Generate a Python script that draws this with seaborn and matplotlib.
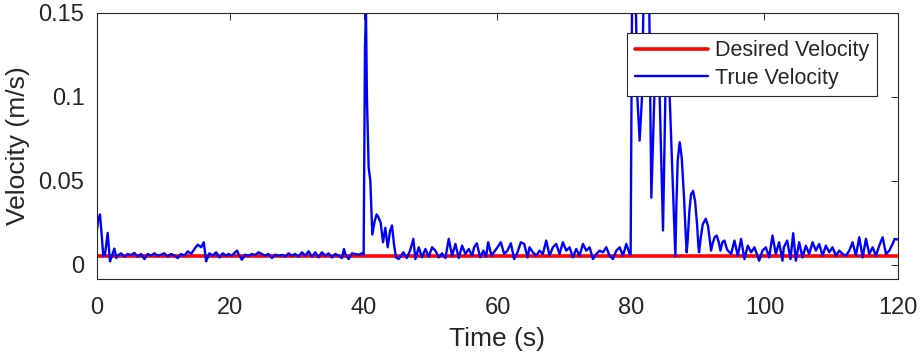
import numpy as np
import pandas as pd
import matplotlib
matplotlib.use("Agg")
import matplotlib.pyplot as plt
import seaborn as sns

# values (time in s, velocity in m/s)
t_start = [0.0, 0.2, 0.45, 0.7, 0.95, 1.2, 1.6, 1.95, 2.3, 2.6, 2.9]
v_start = [0.021, 0.027, 0.030, 0.018, 0.005, 0.006, 0.019, 0.002, 0.006, 0.0096, 0.004]

t_quiet1 = [3.1, 3.6, 4.1, 4.6, 5.1, 5.6, 6.1, 6.6, 7.1, 7.6, 8.1, 8.6, 9.1, 9.6,
            10.1, 10.6, 11.1, 11.6, 12.1, 12.6, 13.1, 13.6, 14.1, 14.6, 15.1, 15.6,
            16.0, 16.35, 16.85, 17.35, 17.85, 18.35, 18.85, 19.35]
v_quiet1 = [0.0054, 0.0068, 0.0048, 0.0064, 0.0058, 0.0070, 0.0048, 0.0064, 0.0034,
            0.0064, 0.0054, 0.0068, 0.0054, 0.0060, 0.0068, 0.0048, 0.0064, 0.0054,
            0.0040, 0.0064, 0.0054, 0.0080, 0.0064, 0.0094, 0.0120, 0.0104, 0.0134,
            0.0020, 0.0068, 0.0054, 0.0074, 0.0044, 0.0068, 0.0054]

t_quiet2 = [19.7, 20.2, 20.7, 21.0, 21.2, 21.7, 22.2, 22.7, 23.2, 23.7, 24.2, 24.7,
            25.2, 25.7, 26.2, 26.7, 27.2, 27.7, 28.2, 28.7, 29.2, 29.7, 30.2, 30.7,
            31.2, 31.7, 32.2, 32.7, 33.2, 33.7, 34.2, 34.7, 35.2, 35.7, 36.2, 36.7,
            37.0, 37.2, 37.7, 38.2, 38.7, 39.2, 39.7]
v_quiet2 = [0.0064, 0.0054, 0.0074, 0.0084, 0.0064, 0.0030, 0.0060, 0.0054, 0.0064,
            0.0058, 0.0074, 0.0064, 0.0054, 0.0064, 0.0040, 0.0060, 0.0054, 0.0058,
            0.0048, 0.0068, 0.0054, 0.0064, 0.0048, 0.0074, 0.0054, 0.0080, 0.0048,
            0.0074, 0.0044, 0.0074, 0.0054, 0.0068, 0.0044, 0.0064, 0.0054, 0.0040,
            0.0094, 0.0064, 0.0034, 0.0068, 0.0064, 0.0060, 0.0068]

t_spike1 = [39.95, 40.15, 40.3, 40.45, 40.7, 40.95, 41.25, 41.6, 41.9, 42.2, 42.5,
            42.85, 43.2, 43.55, 43.9, 44.2, 44.5, 44.8, 45.2]
v_spike1 = [0.006, 0.130, 0.151, 0.098, 0.058, 0.050, 0.018, 0.026, 0.030, 0.028,
            0.025, 0.0134, 0.022, 0.0104, 0.020, 0.0234, 0.012, 0.0044, 0.0034]

t_quiet3 = [45.9, 46.4, 46.9, 47.4, 47.7, 48.2, 48.7, 49.2, 49.7, 50.2, 50.7, 51.2,
            51.7, 52.2, 52.7, 53.2, 53.7, 54.2, 54.7, 55.2, 55.7, 56.2, 56.5, 56.9,
            57.4, 57.9, 58.3, 58.6, 59.1]
v_quiet3 = [0.0074, 0.0040, 0.0084, 0.0154, 0.0034, 0.0104, 0.0044, 0.0094, 0.0048,
            0.0104, 0.0084, 0.0044, 0.0068, 0.0040, 0.0154, 0.0054, 0.0124, 0.0040,
            0.0114, 0.0064, 0.0094, 0.0054, 0.0104, 0.0128, 0.0044, 0.0084, 0.0048,
            0.0134, 0.0054]

t_quiet4 = [60.0, 60.5, 61.0, 61.5, 62.0, 62.5, 63.0, 63.5, 64.0, 64.5, 64.8, 65.3,
            65.8, 66.3, 66.8, 67.3, 67.8, 68.3, 68.8, 69.3, 69.8, 70.3, 70.8, 71.3,
            71.8, 72.3, 72.8, 73.3, 73.8, 74.3, 74.8, 75.3, 75.8, 76.3, 76.8, 77.3,
            77.8, 78.3, 78.8, 79.3, 79.8]
v_quiet4 = [0.0104, 0.0134, 0.0064, 0.0084, 0.0128, 0.0034, 0.0074, 0.0134, 0.0124,
            0.0044, 0.0104, 0.0074, 0.0054, 0.0084, 0.0064, 0.0144, 0.0054, 0.0104,
            0.0124, 0.0064, 0.0134, 0.0084, 0.0104, 0.0044, 0.0094, 0.0054, 0.0124,
            0.0084, 0.0104, 0.0034, 0.0064, 0.0084, 0.0074, 0.0104, 0.0054, 0.0034,
            0.0084, 0.0104, 0.0054, 0.0124, 0.0064]

t_spike2 = [79.95, 80.15, 80.45, 80.75, 80.95, 81.3, 81.65, 81.85, 82.3, 82.75, 83.05,
            83.5, 83.9, 84.3, 84.8, 85.15, 85.45, 85.8, 86.65,
            86.8, 87.0, 87.3, 87.6, 87.95, 88.2, 88.35,
            88.5, 88.75, 89.0, 89.3, 89.6, 89.9, 90.1, 90.2,
            90.45, 90.75, 91.2, 91.55, 91.8, 92.0,
            92.25, 92.55, 92.85, 93.15, 93.4, 93.7, 94.0, 94.4]
v_spike2 = [0.006, 0.150, 0.190, 0.150, 0.100, 0.074, 0.100, 0.150, 0.190, 0.150, 0.040,
            0.100, 0.125, 0.100, 0.0204, 0.100, 0.120, 0.100, 0.005,
            0.035, 0.062, 0.073, 0.064, 0.040, 0.018, 0.0074,
            0.015, 0.032, 0.042, 0.044, 0.038, 0.024, 0.011, 0.0074,
            0.016, 0.024, 0.0274, 0.023, 0.015, 0.0084,
            0.013, 0.0165, 0.0174, 0.0135, 0.0084, 0.0135, 0.0144, 0.009]

t_quiet5 = [95.0, 95.5, 96.0, 96.5, 97.0, 97.5, 98.0, 98.5, 99.2, 99.7, 100.2, 100.7,
            101.2, 101.7, 102.2, 102.7, 102.9, 103.4, 103.9, 104.3, 104.7, 105.2, 105.7,
            106.2, 106.7, 107.2, 107.7, 108.2, 108.7, 109.2, 109.7, 110.2, 110.7, 111.2,
            111.7, 112.2, 112.7, 113.2, 113.7, 114.2, 114.7, 115.2, 115.7, 116.2, 116.7,
            117.2, 117.7, 118.2, 118.7, 119.2, 119.5, 120.0]
v_quiet5 = [0.0064, 0.0144, 0.0054, 0.0154, 0.0034, 0.0114, 0.0074, 0.0104, 0.0024,
            0.0084, 0.0104, 0.0044, 0.0174, 0.0064, 0.0134, 0.0024, 0.0104, 0.0144,
            0.0034, 0.0188, 0.0024, 0.0134, 0.0044, 0.0114, 0.0064, 0.0134, 0.0084,
            0.0124, 0.0054, 0.0114, 0.0074, 0.0104, 0.0054, 0.0084, 0.0064, 0.0054,
            0.0084, 0.0134, 0.0054, 0.0164, 0.0044, 0.0154, 0.0064, 0.0104, 0.0054,
            0.0114, 0.0164, 0.0064, 0.0084, 0.0124, 0.0154, 0.0150]

desired_t = [0.0, 120.0]
desired_v = [0.005, 0.005]

true_t = t_start + t_quiet1 + t_quiet2 + t_spike1 + t_quiet3 + t_quiet4 + t_spike2 + t_quiet5
true_v = v_start + v_quiet1 + v_quiet2 + v_spike1 + v_quiet3 + v_quiet4 + v_spike2 + v_quiet5

true_df = pd.DataFrame({"time": true_t, "vel": true_v})
desired_df = pd.DataFrame({"time": desired_t, "vel": desired_v})

sns.set_style("white")
plt.rcParams['font.family'] = ['Liberation Sans', 'DejaVu Sans']
dark = "#262626"

fig = plt.figure(figsize=(9.21, 3.61), dpi=100)
ax = fig.add_axes([0.1053, 0.2271, 0.8697, 0.7369])

sns.lineplot(data=desired_df, x="time", y="vel", color=(1, 0, 0), linewidth=2.6,
             label="Desired Velocity", ax=ax)
sns.lineplot(data=true_df, x="time", y="vel", color=(0, 0, 1), linewidth=1.7,
             label="True Velocity", ax=ax)

ax.set_xlim(0, 120)
ax.set_ylim(-0.0085, 0.15)
ax.set_xticks([0, 20, 40, 60, 80, 100, 120])
ax.set_yticks([0, 0.05, 0.1, 0.15])
ax.set_yticklabels(["0", "0.05", "0.1", "0.15"])
ax.set_xlabel("Time (s)", fontsize=19, color=dark, labelpad=6)
ax.set_ylabel("Velocity (m/s)", fontsize=19, color=dark, labelpad=6)

ax.tick_params(direction="in", length=5, width=0.7, colors=dark, labelsize=17,
               top=True, right=True, pad=9)
ax.tick_params(axis="x", pad=13)
for s in ax.spines.values():
    s.set_color(dark)
    s.set_linewidth(0.8)

leg = ax.legend(loc="upper right", bbox_to_anchor=(0.974, 0.925), borderaxespad=0,
                fontsize=15.5, frameon=True, fancybox=False, framealpha=1,
                handlelength=3.4, handletextpad=0.35, borderpad=0.35,
                labelspacing=0.3, edgecolor=dark)
leg.get_frame().set_linewidth(0.8)
for txt in leg.get_texts():
    txt.set_color(dark)

plt.savefig("out.png", dpi=100)
